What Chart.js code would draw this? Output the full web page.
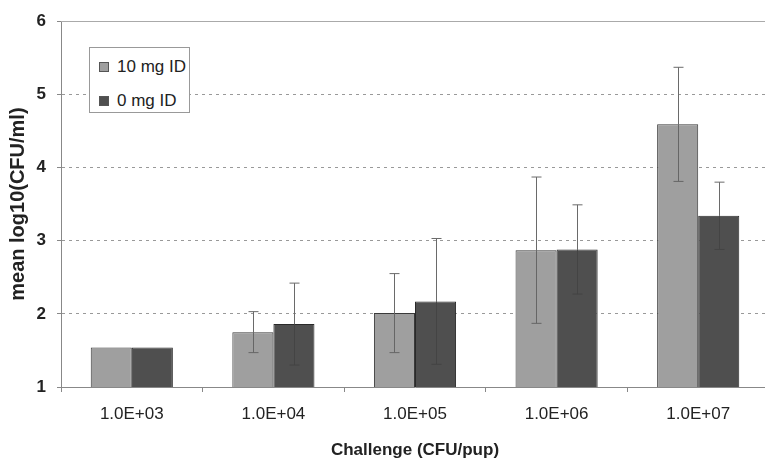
<!DOCTYPE html>
<html>
<head>
<meta charset="utf-8">
<script src="https://cdn.jsdelivr.net/npm/chart.js@4"></script>
<style>
    html, body { margin: 0; padding: 0; background: #fff; overflow: hidden; }
    #wrap { position: relative; width: 772px; height: 465px; }
    #legend {
        position: absolute; left: 89px; top: 47px; width: 101px; height: 66px;
        border: 1px solid #999; background: #fff; box-sizing: border-box;
        font-family: "Liberation Sans", Arial, sans-serif; font-size: 17px; color: #222;
        padding: 6px 0 0 9px;
    }
    #legend div { display: flex; align-items: center; height: 26px; margin-bottom: 8px; }
    #legend span.box { width: 8px; height: 8px; margin-right: 8px; border: 1px solid #555; }
</style>
</head>
<body>
<div id="wrap">
    <canvas id="chart" width="772" height="465"></canvas>
    <div id="legend"></div>
</div>
<script>
const categories = ['1.0E+03', '1.0E+04', '1.0E+05', '1.0E+06', '1.0E+07'];
const seriesLabels = ['10 mg ID', '0 mg ID'];
const light = [1.54, 1.75, 2.01, 2.87, 4.59];
const dark = [1.54, 1.86, 2.17, 2.88, 3.34];
const errLight = [0, 0.28, 0.54, 1.0, 0.78];
const errDark = [0, 0.56, 0.86, 0.61, 0.46];
const yTicks = [1, 2, 3, 4, 5, 6];

const font = 'Liberation Sans, Arial, sans-serif';

// error bars drawn from the dataset's own scale; the part inside the bar uses ds.errInside
const errorBars = {
    id: 'errorBars',
    afterDatasetsDraw(chart) {
        const ctx = chart.ctx;
        const y = chart.scales.y;
        chart.data.datasets.forEach((ds, i) => {
            const meta = chart.getDatasetMeta(i);
            meta.data.forEach((bar, j) => {
                const e = ds.errors[j];
                if (!e) return;
                const top = y.getPixelForValue(ds.data[j] + e);
                const mid = y.getPixelForValue(ds.data[j]);
                const bot = y.getPixelForValue(ds.data[j] - e);
                const x = Math.round(bar.x) + 0.5;
                ctx.save();
                ctx.lineWidth = 1;
                ctx.strokeStyle = '#6a6a6a';
                ctx.beginPath();
                ctx.moveTo(x, top); ctx.lineTo(x, mid);
                ctx.moveTo(x - 5, top); ctx.lineTo(x + 5, top);
                ctx.stroke();
                ctx.strokeStyle = ds.errInside;
                ctx.beginPath();
                ctx.moveTo(x, mid); ctx.lineTo(x, bot);
                ctx.moveTo(x - 5, bot); ctx.lineTo(x + 5, bot);
                ctx.stroke();
                ctx.restore();
            });
        });
    }
};

// solid frame line at the top of the plot
const topFrame = {
    id: 'topFrame',
    beforeDatasetsDraw(chart) {
        const { ctx, chartArea } = chart;
        ctx.save();
        ctx.strokeStyle = '#aaa';
        ctx.lineWidth = 1;
        ctx.beginPath();
        ctx.moveTo(chartArea.left, Math.round(chartArea.top) + 0.5);
        ctx.lineTo(chartArea.right, Math.round(chartArea.top) + 0.5);
        ctx.stroke();
        ctx.restore();
    }
};

const chart = new Chart(document.getElementById('chart'), {
    type: 'bar',
    data: {
        labels: categories,
        datasets: [
            { label: seriesLabels[0], data: light, errors: errLight, errInside: '#666', backgroundColor: '#9f9f9f', borderColor: '#3a3a3a', borderWidth: 1 },
            { label: seriesLabels[1], data: dark, errors: errDark, errInside: '#444', backgroundColor: '#4f4f4f', borderColor: '#2a2a2a', borderWidth: 1 }
        ]
    },
    options: {
        responsive: false,
        animation: false,
        layout: { padding: { top: 15, right: 3, left: 0, bottom: 0 } },
        datasets: { bar: { barPercentage: 1, categoryPercentage: 0.58 } },
        plugins: { legend: { display: false }, tooltip: { enabled: false } },
        scales: {
            x: {
                afterFit: s => { s.height = 78; },
                grid: { drawOnChartArea: false, offset: true, tickLength: 5, color: '#888' },
                border: { color: '#888' },
                ticks: { padding: 12, color: '#222', font: { family: font, size: 17 } },
                title: { display: true, text: 'Challenge (CFU/pup)', color: '#222', padding: { top: 0, bottom: 4 }, font: { family: font, size: 17, weight: 'bold' } }
            },
            y: {
                min: 1, max: 6,
                afterFit: s => { s.width = 61; },
                afterBuildTicks: s => { s.ticks = yTicks.map(v => ({ value: v })); },
                grid: { color: '#999', tickLength: 4, tickColor: '#888' },
                border: { color: '#888', dash: [3, 4] },
                ticks: { padding: 11, color: '#222', font: { family: font, size: 17, weight: 'bold' } },
                title: { display: true, text: 'mean log10(CFU/ml)', color: '#222', padding: { top: 6, bottom: 0 }, font: { family: font, size: 20, weight: 'bold' } }
            }
        }
    },
    plugins: [topFrame, errorBars]
});

const legend = document.getElementById('legend');
chart.data.datasets.forEach(ds => {
    const row = document.createElement('div');
    row.innerHTML = `<span class="box" style="background:${ds.backgroundColor}"></span>${ds.label}`;
    legend.appendChild(row);
});
</script>
</body>
</html>
